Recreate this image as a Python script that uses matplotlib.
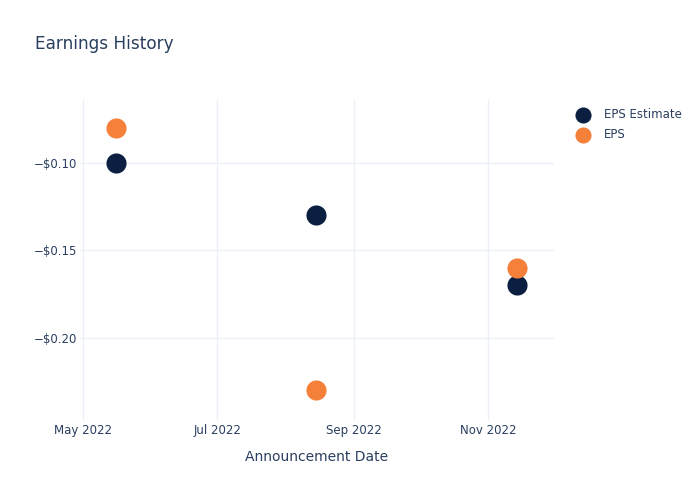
import matplotlib.pyplot as plt
import matplotlib.dates as mdates
from matplotlib.ticker import FuncFormatter
import numpy as np

dates = np.array(["2022-05-16", "2022-08-15", "2022-11-14"], dtype="datetime64[D]")
eps_estimate = [-0.10, -0.13, -0.17]
eps_actual = [-0.08, -0.23, -0.16]

text_col = "#2a3f5f"
grid_col = "#ebf0f8"

fig = plt.figure(figsize=(7, 5), dpi=100)
ax = fig.add_axes([80 / 700, 80 / 500, 474 / 700, 320 / 500])

ax.scatter(dates, eps_estimate, s=210, color="#0b1f41", label="EPS Estimate", zorder=3, linewidths=0)
ax.scatter(dates, eps_actual, s=210, color="#f5803a", label="EPS", zorder=4, linewidths=0)

ax.set_xlim(np.datetime64("2022-04-29T14:00"), np.datetime64("2022-12-01"))
ax.set_ylim(-0.2469, -0.064)
ax.set_yticks([-0.20, -0.15, -0.10])
ax.yaxis.set_major_formatter(FuncFormatter(lambda v, p: "\u2212$%.2f" % abs(v)))
ax.xaxis.set_major_locator(mdates.MonthLocator(bymonth=[5, 7, 9, 11]))
ax.xaxis.set_major_formatter(mdates.DateFormatter("%b %Y"))

for s in ax.spines.values():
    s.set_visible(False)
ax.grid(True, color=grid_col, lw=1)
ax.set_axisbelow(True)
ax.tick_params(length=0, labelsize=8.5, colors=text_col)
ax.tick_params(axis="x", pad=3)
ax.tick_params(axis="y", pad=2)

ax.set_xlabel("Announcement Date", fontsize=10, color=text_col, labelpad=9)
fig.text(35 / 700, 1 - 44 / 500, "Earnings History", fontsize=12.2, color=text_col, va="center")

fig.legend(loc="upper left", bbox_to_anchor=(566 / 700, 1 - 103 / 500), frameon=False,
           fontsize=8.5, labelcolor=text_col, handletextpad=0.8, labelspacing=0.6,
           markerscale=0.8, borderaxespad=0)

fig.savefig("out.png", dpi=100)
